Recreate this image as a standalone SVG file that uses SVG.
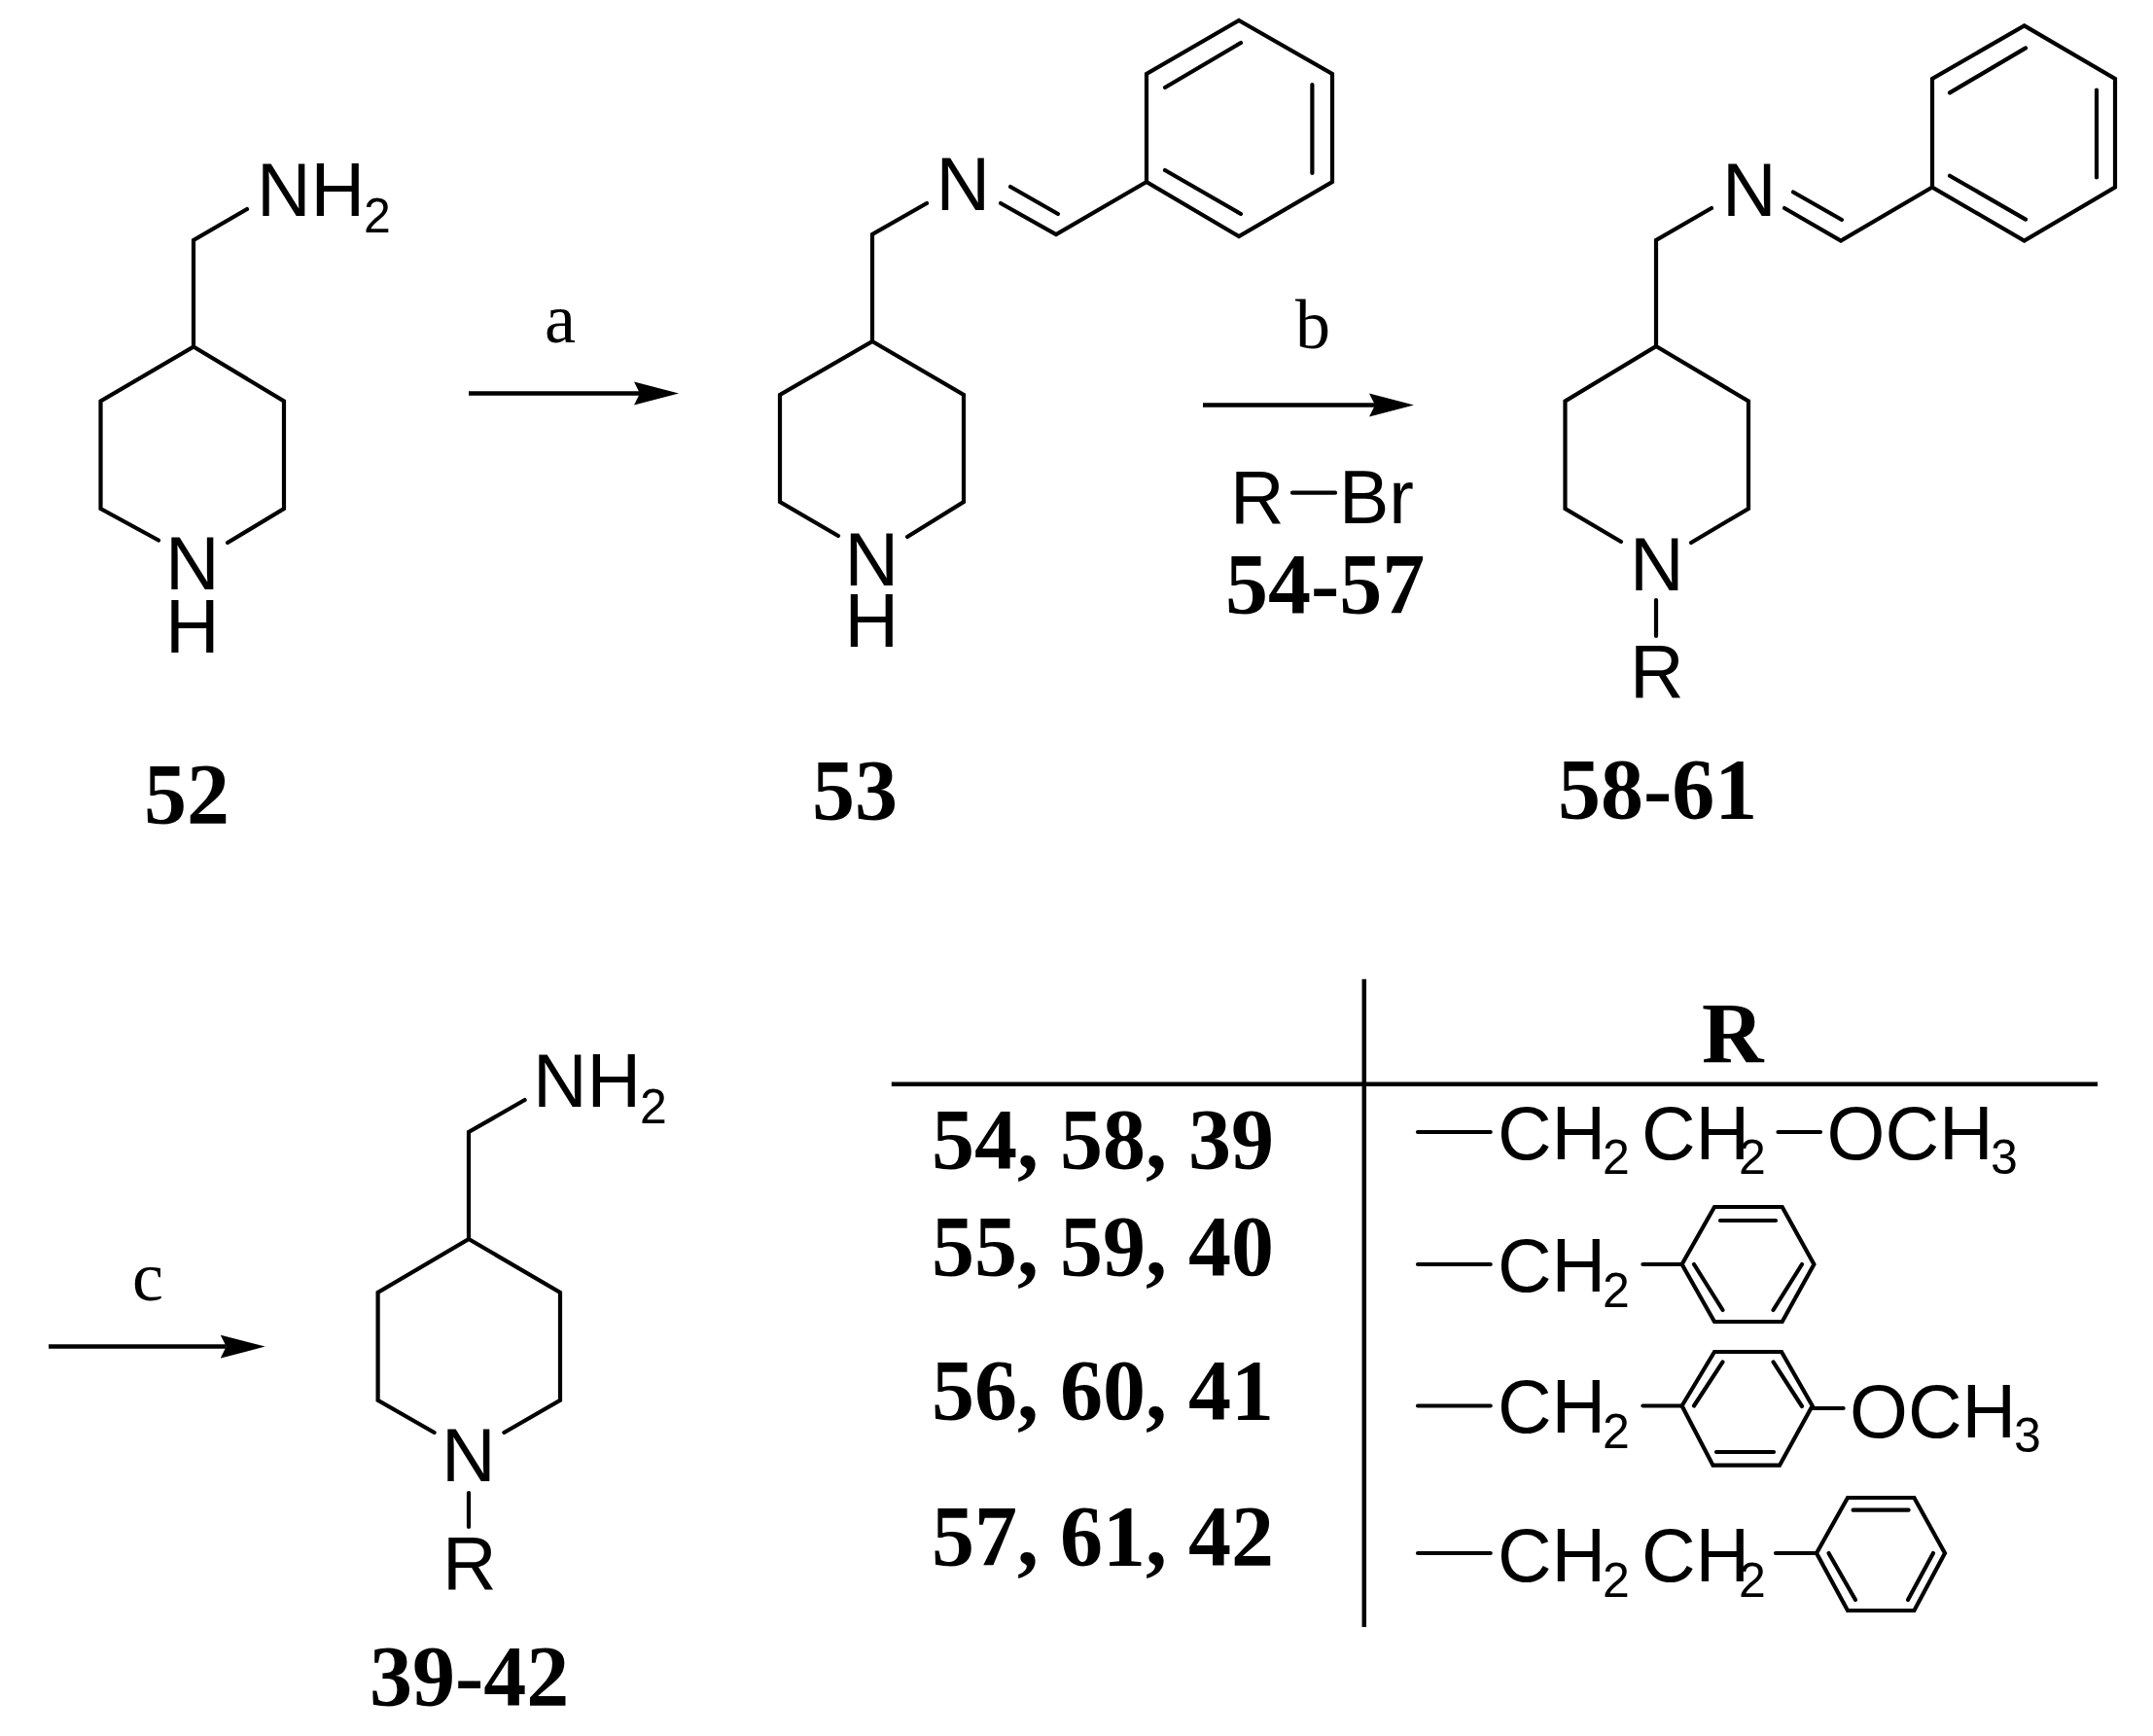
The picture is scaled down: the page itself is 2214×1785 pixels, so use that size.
<svg xmlns="http://www.w3.org/2000/svg" width="2214" height="1785" viewBox="0 0 2214 1785">
<style>
.b{fill:none;stroke:#000;stroke-width:4.2;stroke-linecap:round;stroke-linejoin:miter}
.a{font-family:"Liberation Sans",Arial,sans-serif;font-size:77px;fill:#000}
.s{font-family:"Liberation Sans",Arial,sans-serif;font-size:50px;fill:#000}
.n{font-family:"Liberation Serif","Times New Roman",serif;font-size:88px;font-weight:700;fill:#000}
.r{font-family:"Liberation Serif","Times New Roman",serif;font-size:72px;fill:#000}
.l{fill:none;stroke:#000;stroke-width:4.5}
</style>
<defs>
<marker id="head" markerUnits="userSpaceOnUse" viewBox="0 0 46 26" markerWidth="46" markerHeight="26" refX="6" refY="13" orient="auto"><path d="M0 1L46 13L0 25L6 13Z" fill="#000"/></marker>
</defs>
<rect width="2214" height="1785" fill="#fff"/>
<g id="connectors">
<line class="l" x1="482" y1="404.6" x2="658" y2="404.6" marker-end="url(#head)"/>
<line class="l" x1="1237" y1="416.4" x2="1414" y2="416.4" marker-end="url(#head)"/>
<line class="l" x1="50" y1="1384.6" x2="232.7" y2="1384.6" marker-end="url(#head)"/>
</g>
<g id="label-a"><text class="r" x="560" y="352">a</text></g>
<g id="label-b"><text class="r" x="1332" y="357.5">b</text></g>
<g id="label-c"><text class="r" x="136" y="1337">c</text></g>
<g id="reagent">
<text class="a" x="1265" y="537.6">R</text><path class="b" d="M1329 506.7H1373"/><text class="a" x="1377" y="537.6">Br</text>
<text class="n" x="1260" y="629.6">54-57</text>
</g>
<g id="compound-52">
<path class="b" d="M254 215L199 247V356.5L103.5 412.5V523L163 555.5M234 558L292 523V412.5L199 356.5"/>
<text class="a" x="264" y="221.7">NH</text><text class="s" x="374" y="238.5">2</text>
<text class="a" x="170" y="606">N</text><text class="a" x="170" y="670.6">H</text>
<text class="n" x="148" y="846">52</text>
</g>
<g id="compound-53">
<path class="b" d="M953 209L897 241V351L802 406V516L862 551M933 552L991 516V406L897 351"/>
<path class="b" d="M1029 209L1086 241L1179 187M1039 192L1088 220"/>
<path class="b" d="M1274 21L1370 76V187L1274 243L1179 187V76Z"/>
<path class="b" d="M1349.4 87V178M1198 90L1276 44M1198 175L1276 220"/>
<text class="a" x="962.5" y="216">N</text>
<text class="a" x="868.5" y="601.6">N</text><text class="a" x="868.5" y="665">H</text>
<text class="n" x="835" y="842">53</text>
</g>
<g id="compound-58-61">
<path class="b" d="M1760 214L1703 247V356L1609.5 412.5V523L1667 557M1739 558L1798 523V412.5L1703 356"/>
<path class="b" d="M1835 214L1893 247.5L1987 192.5M1844 197.5L1894 226"/>
<path class="b" d="M2081.6 26.4L2175 81V192.5L2081.6 247.5L1987 192.5V81Z"/>
<path class="b" d="M2156 92.6V182.4M2005 95.4L2083 49.4M2005 180.7L2083 225.6"/>
<path class="b" d="M1703 617V654"/>
<text class="a" x="1771" y="221.7">N</text>
<text class="a" x="1676" y="607">N</text><text class="a" x="1676" y="716.6">R</text>
<text class="n" x="1602" y="840.6">58-61</text>
</g>
<g id="compound-39-42">
<path class="b" d="M539.6 1131L482 1164V1274L388.6 1329V1439.7L446.6 1473M518.4 1473L576 1439.7V1329L482 1274"/>
<path class="b" d="M482 1535V1570"/>
<text class="a" x="548" y="1137.7">NH</text><text class="s" x="658" y="1155">2</text>
<text class="a" x="454" y="1523">N</text><text class="a" x="455" y="1633.5">R</text>
<text class="n" x="380" y="1752.6">39-42</text>
</g>
<g id="table">
<path class="l" d="M1402.8 1006.7V1673M916.8 1114.7H2157"/>
<text class="n" x="1750" y="1091.5">R</text>
<text class="n" x="958" y="1201">54, 58, 39</text>
<text class="n" x="958" y="1311">55, 59, 40</text>
<text class="n" x="958" y="1459">56, 60, 41</text>
<text class="n" x="958" y="1608.5">57, 61, 42</text>
</g>
<g id="r-row-1">
<path class="b" d="M1458 1164H1532.7M1828.5 1164H1872"/>
<text class="a" x="1540" y="1192">CH</text><text class="s" x="1648" y="1206.7">2</text>
<text class="a" x="1688" y="1192">CH</text><text class="s" x="1788" y="1206.7">2</text>
<text class="a" x="1878.5" y="1192">OCH</text><text class="s" x="2047" y="1206.7">3</text>
</g>
<g id="r-row-2">
<path class="b" d="M1458 1300H1532.7M1689.4 1300H1729.6"/>
<path class="b" d="M1729.6 1300L1763 1241H1832.7L1865.4 1300L1832.7 1359H1763Z"/>
<path class="b" d="M1769 1255H1826M1742 1300L1771.5 1347M1853 1300L1823.5 1347"/>
<text class="a" x="1540" y="1328">CH</text><text class="s" x="1648" y="1343.7">2</text>
</g>
<g id="r-row-3">
<path class="b" d="M1458 1445.5H1532.7M1689.4 1445.5H1729.6M1863.7 1448H1895.6"/>
<path class="b" d="M1729.6 1445.5L1763 1390H1832L1863.7 1445.5L1830 1506.7H1761.5Z"/>
<path class="b" d="M1742 1445.5L1771.5 1400.4M1853 1446L1823.5 1400.4M1765 1493H1824"/>
<text class="a" x="1540" y="1473">CH</text><text class="s" x="1648" y="1489">2</text>
<text class="a" x="1902" y="1477.7">OCH</text><text class="s" x="2071" y="1493">3</text>
</g>
<g id="r-row-4">
<path class="b" d="M1458 1597H1532.7M1826 1597H1868"/>
<path class="b" d="M1868 1597L1900 1540H1968.4L2000 1597L1968.4 1656H1900Z"/>
<path class="b" d="M1905.6 1552.7H1962.6M1880.5 1597L1908 1645M1988 1597L1962 1645"/>
<text class="a" x="1540" y="1626">CH</text><text class="s" x="1648" y="1641.5">2</text>
<text class="a" x="1688" y="1626">CH</text><text class="s" x="1788" y="1641.5">2</text>
</g>
</svg>
